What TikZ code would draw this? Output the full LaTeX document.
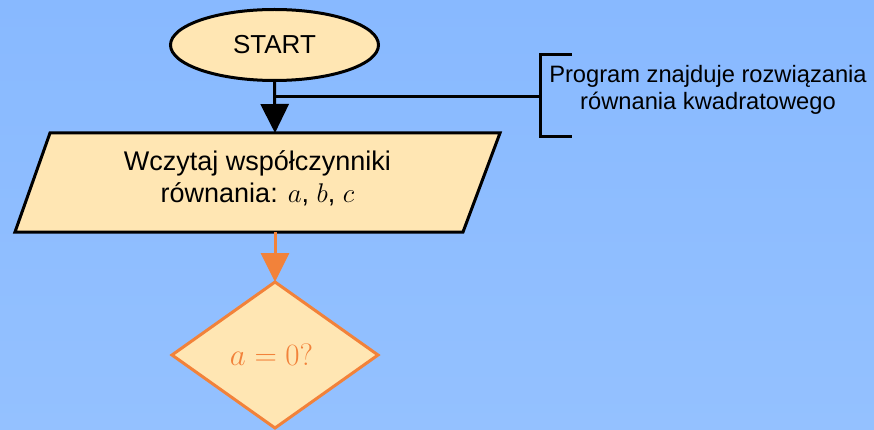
\RequirePackage{fix-cm}
\documentclass[tikz,border=0pt]{standalone}
\usepackage{fontspec}
\setmainfont{Liberation Sans}
\usetikzlibrary{shapes.geometric,arrows.meta,calc}
\definecolor{bgtop}{HTML}{88B9FF}
\definecolor{bgbot}{HTML}{94C1FF}
\definecolor{cream}{HTML}{FFE6B3}
\definecolor{flow}{HTML}{F2823A}
\tikzset{
  x=1pt, y=-1pt,
  startbox/.style={ellipse, draw=black, line width=3pt, fill=cream,
    minimum width=208pt, minimum height=71pt, inner sep=0pt,
    font=\fontsize{26}{31}\selectfont},
  iobox/.style={draw=black, line width=3pt, fill=cream, line join=miter},
  decbox/.style={draw=flow, line width=3pt, fill=cream, line join=miter},
  blackflow/.style={draw=black, line width=3pt,
    -{Triangle[length=29pt,width=28pt]}},
  orangeflow/.style={draw=flow, line width=3pt,
    -{Triangle[length=29pt,width=28pt]}},
  notebracket/.style={draw=black, line width=3pt},
}
\begin{document}
\begin{tikzpicture}
  % background
  \shade[top color=bgtop, bottom color=bgbot] (0,0) rectangle (874,430);
  \useasboundingbox (0,0) rectangle (874,430);

  % start terminal
  \node[startbox] (start) at (274.5,45) {START};

  % input parallelogram
  \coordinate (p1) at (50,133);
  \coordinate (p2) at (500,133);
  \coordinate (p3) at (463,232);
  \coordinate (p4) at (15,232);
  \draw[iobox] (p1) -- (p2) -- (p3) -- (p4) -- cycle;
  \node[align=center, font=\fontsize{27}{32}\selectfont] (read) at (257.5,178)
    {Wczytaj współczynniki\\równania: $a$, $b$, $c$};
  \coordinate (readtop) at (275,133);
  \coordinate (readbot) at (275,232);

  % decision diamond
  \coordinate (dtop) at (275,282);
  \coordinate (dright) at (378,355);
  \coordinate (dbot) at (275,428);
  \coordinate (dleft) at (172,355);
  \draw[decbox] (dtop) -- (dright) -- (dbot) -- (dleft) -- cycle;
  \node[text=flow, font=\fontsize{31}{36}\selectfont] (cond) at (271.5,355) {$a=0?$};

  % connectors
  \draw[blackflow] (start.south) -- (readtop);
  \draw[orangeflow] (readbot) -- (dtop);

  % annotation bracket
  \coordinate (tap) at (275,97);
  \coordinate (bmid) at (540,97);
  \coordinate (btop) at (540,55);
  \coordinate (bbot) at (540,137);
  \draw[notebracket] (tap) -- (bmid);
  \draw[notebracket] ($(btop)+(32,0)$) -- (btop) -- (bbot) -- ($(bbot)+(32,0)$);
  \node[align=center, font=\fontsize{23.7}{27.5}\selectfont] (note) at (708,90)
    {Program znajduje rozwiązania\\równania kwadratowego};
\end{tikzpicture}
\end{document}
